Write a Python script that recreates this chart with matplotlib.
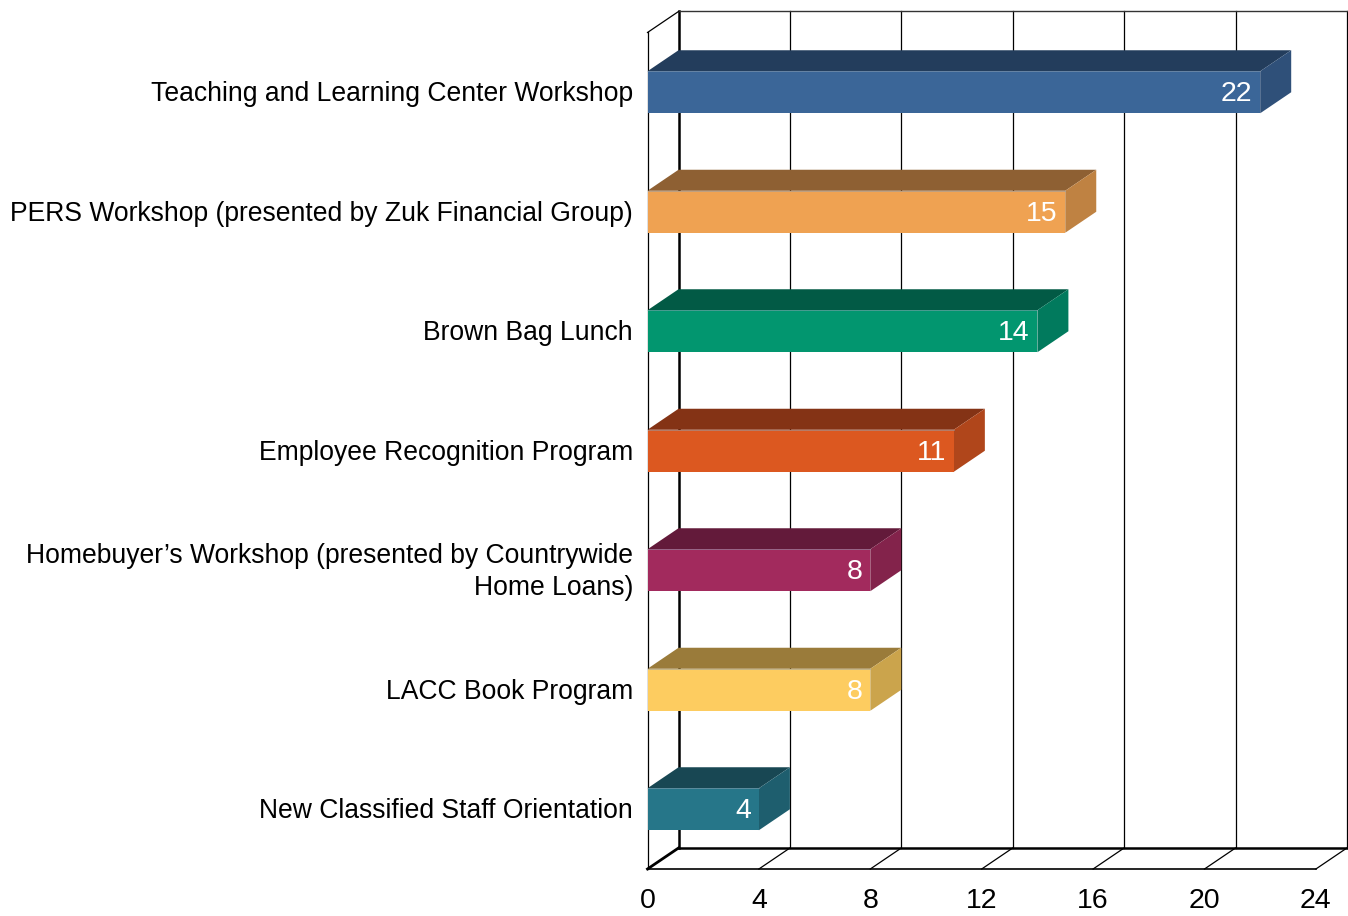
import matplotlib.pyplot as plt
from matplotlib.patches import Polygon

plt.rcParams['font.family'] = ['Liberation Sans', 'DejaVu Sans']

# data, top to bottom as in the chart
labels = [
    'Teaching and Learning Center Workshop',
    'PERS Workshop (presented by Zuk Financial Group)',
    'Brown Bag Lunch',
    'Employee Recognition Program',
    'Homebuyer\u2019s Workshop (presented by Countrywide\nHome Loans)',
    'LACC Book Program',
    'New Classified Staff Orientation',
]
values = [22, 15, 14, 11, 8, 8, 4]
front_colors = ['#3B6698', '#EFA252', '#02966F', '#DC5820', '#A22A5D', '#FDCC60', '#267689']
top_colors = ['#233D5C', '#8E6033', '#025A45', '#843315', '#631A3A', '#9A7B3A', '#184753']
side_colors = ['#2F5079', '#BF8242', '#017A5D', '#B0461B', '#83234B', '#CBA44C', '#1E5E6E']
ticks = [0, 4, 8, 12, 16, 20, 24]

# fake 3d geometry (data units)
xmax = 24
n = len(values)
px_x = 27.85         # pixels per value unit
px_y = 119.5         # pixels per category
dx = 31 / px_x       # depth offset in x
dy = 21 / px_y       # depth offset in y
bar_h = 42 / px_y

fig = plt.figure(figsize=(13.48, 9.16), dpi=100)
ax = fig.add_axes([0, 0, 1, 1])
ax.set_xlim(-647.5 / px_x, (1348 - 647.5) / px_x)
ax.set_ylim(-47 / px_y, 869 / px_y)
ax.axis('off')

k = '#000000'
# back wall
for t in ticks[1:]:
    ax.plot([t + dx, t + dx], [dy, n + dy], color=k, lw=0.9, zorder=1)
ax.plot([dx, dx], [dy, n + dy], color=k, lw=1.8, zorder=1)
ax.plot([dx, xmax + dx], [n + dy, n + dy], color='#333333', lw=1.0, zorder=1)
# floor
ax.plot([dx, xmax + dx], [dy, dy], color=k, lw=1.8, zorder=1)
ax.plot([0, xmax], [0, 0], color=k, lw=1.2, zorder=1)
for t in ticks:
    ax.plot([t, t + dx], [0, dy], color=k, lw=2.0 if t == 0 else 0.9, zorder=1)
# left wall
ax.plot([0, 0], [0, n], color=k, lw=0.9, zorder=1)
ax.plot([0, dx], [n, n + dy], color=k, lw=0.9, zorder=1)

# bars
for i, (v, lab) in enumerate(zip(values, labels)):
    yc = n - i - 0.5
    y0, y1 = yc - bar_h / 2, yc + bar_h / 2
    ax.add_patch(Polygon([(0, y1), (v, y1), (v + dx, y1 + dy), (dx, y1 + dy)],
                         closed=True, facecolor=top_colors[i], edgecolor='none', zorder=3))
    ax.add_patch(Polygon([(v, y0), (v + dx, y0 + dy), (v + dx, y1 + dy), (v, y1)],
                         closed=True, facecolor=side_colors[i], edgecolor='none', zorder=3))
    ax.add_patch(Polygon([(0, y0), (v, y0), (v, y1), (0, y1)],
                         closed=True, facecolor=front_colors[i], edgecolor='none', zorder=4))
    ax.plot([0, v], [y1, y1], color='#8FA0B0', lw=0.6, alpha=0.6, zorder=5)
    ax.text(v - 8 / px_x, yc - 2 / px_y, str(v), color='white', fontsize=20.5,
            ha='right', va='center', zorder=6)
    ax.text(-14.5 / px_x, yc - 2 / px_y, lab, fontsize=19.1, ha='right', va='center',
            multialignment='right', linespacing=1.28)

for t in ticks:
    ax.text(t, -32 / px_y, str(t), fontsize=20.5, ha='center', va='center')

fig.savefig('out.png', dpi=100)
